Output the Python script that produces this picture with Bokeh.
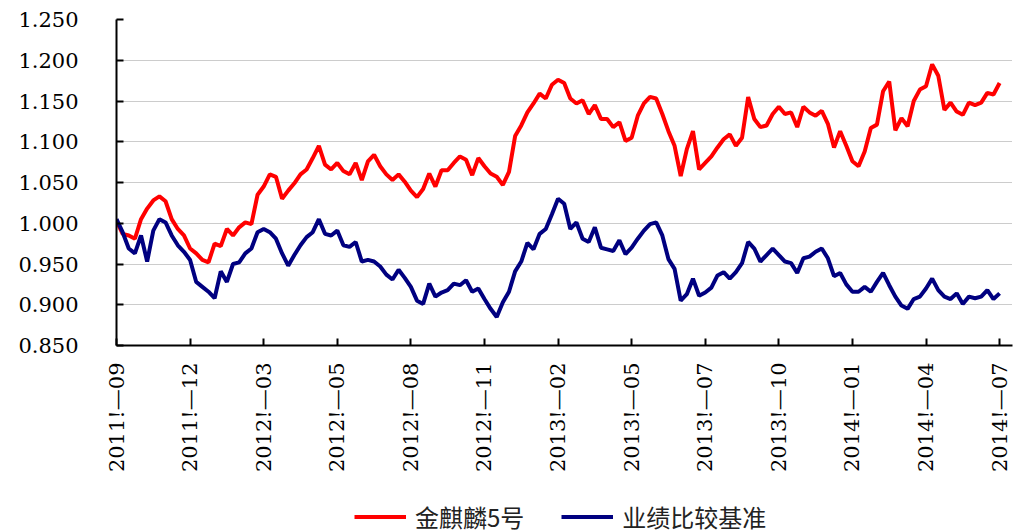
import math
from bokeh.plotting import figure
from bokeh.layouts import column
from bokeh.models import FixedTicker, NumeralTickFormatter, Legend, LegendItem, Range1d
from bokeh.embed import file_html
from bokeh.resources import INLINE

tick_labels = ["2011!—09", "2011!—12", "2012!—03", "2012!—05", "2012!—08", "2012!—11",
               "2013!—02", "2013!—05", "2013!—07", "2013!—10", "2014!—01", "2014!—04", "2014!—07"]
series_names = ["金麒麟5号", "业绩比较基准"]

fund = [1.003, 0.987, 0.985, 0.981, 1.005, 1.018, 1.028, 1.033, 1.027, 1.005,
        0.993, 0.985, 0.969, 0.963, 0.955, 0.952, 0.975, 0.972, 0.993, 0.985,
        0.995, 1.001, 0.999, 1.035, 1.045, 1.060, 1.057, 1.030, 1.040, 1.049,
        1.060, 1.066, 1.080, 1.095, 1.072, 1.066, 1.074, 1.064, 1.060, 1.074,
        1.053, 1.076, 1.084, 1.070, 1.060, 1.053, 1.060, 1.051, 1.040, 1.032,
        1.042, 1.061, 1.045, 1.065, 1.065, 1.074, 1.082, 1.078, 1.059, 1.080,
        1.070, 1.061, 1.057, 1.047, 1.063, 1.107, 1.120, 1.136, 1.147, 1.159,
        1.153, 1.170, 1.176, 1.172, 1.153, 1.147, 1.151, 1.134, 1.145, 1.128,
        1.128, 1.118, 1.124, 1.101, 1.105, 1.132, 1.147, 1.155, 1.153, 1.134,
        1.113, 1.095, 1.058, 1.091, 1.113, 1.066, 1.074, 1.082, 1.093, 1.103,
        1.109, 1.095, 1.105, 1.155, 1.128, 1.118, 1.120, 1.134, 1.143, 1.134,
        1.136, 1.118, 1.143, 1.136, 1.132, 1.138, 1.122, 1.093, 1.113, 1.095,
        1.076, 1.070, 1.088, 1.117, 1.121, 1.162, 1.174, 1.114, 1.129, 1.119,
        1.150, 1.164, 1.168, 1.195, 1.181, 1.139, 1.148, 1.137, 1.133, 1.148,
        1.145, 1.148, 1.160, 1.158, 1.172]

benchmark = [1.005, 0.989, 0.969, 0.963, 0.985, 0.953, 0.991, 1.005, 1.001, 0.985,
             0.973, 0.965, 0.955, 0.928, 0.922, 0.916, 0.908, 0.941, 0.928, 0.950,
             0.952, 0.963, 0.969, 0.989, 0.993, 0.989, 0.981, 0.963, 0.948, 0.961,
             0.973, 0.983, 0.989, 1.005, 0.987, 0.985, 0.991, 0.973, 0.971, 0.977,
             0.953, 0.955, 0.953, 0.947, 0.937, 0.931, 0.943, 0.933, 0.922, 0.905,
             0.901, 0.926, 0.910, 0.915, 0.918, 0.926, 0.924, 0.930, 0.916, 0.920,
             0.907, 0.895, 0.885, 0.903, 0.916, 0.941, 0.953, 0.976, 0.968, 0.987,
             0.993, 1.011, 1.030, 1.024, 0.993, 1.001, 0.981, 0.977, 0.995, 0.970,
             0.968, 0.966, 0.979, 0.962, 0.970, 0.981, 0.991, 0.999, 1.001, 0.985,
             0.956, 0.944, 0.905, 0.913, 0.932, 0.911, 0.915, 0.921, 0.936, 0.940,
             0.932, 0.940, 0.951, 0.977, 0.969, 0.953, 0.961, 0.969, 0.961, 0.953,
             0.951, 0.939, 0.957, 0.959, 0.965, 0.969, 0.957, 0.935, 0.939, 0.925,
             0.916, 0.916, 0.922, 0.916, 0.928, 0.939, 0.924, 0.910, 0.899, 0.895,
             0.907, 0.910, 0.920, 0.932, 0.918, 0.910, 0.907, 0.914, 0.901, 0.910,
             0.908, 0.910, 0.918, 0.907, 0.914]

y_ticks = [0.85, 0.90, 0.95, 1.00, 1.05, 1.10, 1.15, 1.20, 1.25]

colors = ["#ff0000", "#000080"]
n = len(fund)
x = list(range(n))
step = (n - 1) // (len(tick_labels) - 1)
x_ticks = [i * step for i in range(len(tick_labels))]

p = figure(frame_width=896, frame_height=326, output_backend="svg", toolbar_location=None,
           x_range=Range1d(0, (n - 1) * 1.0146), y_range=Range1d(0.85, 1.25),
           min_border_left=116, min_border_right=2, min_border_top=19, min_border_bottom=155)
p.outline_line_color = None
p.background_fill_color = "white"

p.line(x, fund, line_color=colors[0], line_width=4)
p.line(x, benchmark, line_color=colors[1], line_width=4)

font = "DejaVu Serif"
p.yaxis.ticker = FixedTicker(ticks=y_ticks)
p.yaxis.formatter = NumeralTickFormatter(format="0.000")
p.yaxis.major_label_text_font = font
p.yaxis.major_label_text_font_size = "21px"
p.yaxis.major_label_text_color = "black"
p.yaxis.major_label_standoff = 38
p.yaxis.minor_tick_line_color = None
p.yaxis.major_tick_in = 7
p.yaxis.major_tick_out = 0
p.yaxis.major_tick_line_width = 2
p.yaxis.axis_line_width = 2
p.yaxis.axis_line_color = "black"

p.xaxis.ticker = FixedTicker(ticks=x_ticks)
p.xaxis.major_label_overrides = {t: lab for t, lab in zip(x_ticks, tick_labels)}
p.xaxis.major_label_orientation = math.pi / 2
p.xaxis.major_label_text_font = font
p.xaxis.major_label_text_font_size = "21px"
p.xaxis.major_label_text_color = "black"
p.xaxis.major_label_standoff = 17
p.xaxis.minor_tick_line_color = None
p.xaxis.major_tick_in = 7
p.xaxis.major_tick_out = 0
p.xaxis.major_tick_line_width = 2
p.xaxis.axis_line_width = 2
p.xaxis.axis_line_color = "black"

p.xgrid.grid_line_color = None
p.ygrid.grid_line_color = "#999999"
p.ygrid.grid_line_dash = "1 1"
p.ygrid.grid_line_width = 1

# legend strip below the chart (its lines sit outside the visible range)
lf = figure(width=1014, height=32, output_backend="svg", toolbar_location=None,
            x_range=Range1d(0, n), y_range=Range1d(-3, -2),
            min_border=0, x_axis_location=None, y_axis_location=None)
lf.outline_line_color = None
lf.grid.grid_line_color = None
lr1 = lf.line(x, fund, line_color=colors[0], line_width=4)
lr2 = lf.line(x, benchmark, line_color=colors[1], line_width=4)
legend = Legend(items=[LegendItem(label=series_names[0], renderers=[lr1]),
                       LegendItem(label=series_names[1], renderers=[lr2])],
                orientation="horizontal", location="center_left", margin=238,
                label_text_font="Noto Sans CJK SC", label_text_font_size="24px",
                label_text_color="#222222",
                glyph_width=52, glyph_height=20, label_standoff=9, spacing=37,
                padding=0, border_line_color=None, background_fill_alpha=0)
lf.add_layout(legend, "center")

layout = column(p, lf, spacing=0)
open("out.html", "w").write(file_html(layout, INLINE))
